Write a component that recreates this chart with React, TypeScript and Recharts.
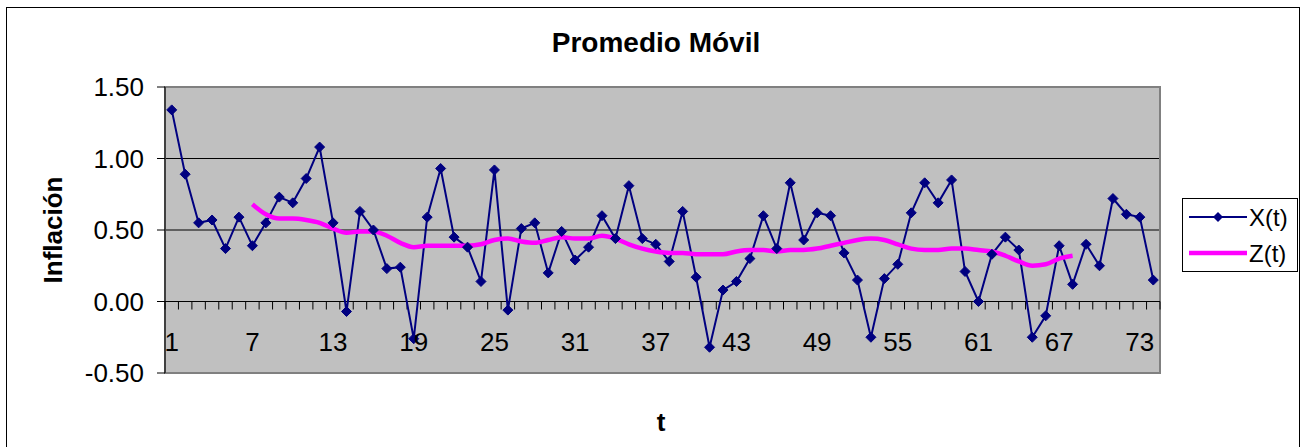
import React from 'react'
import {
  LineChart,
  Line,
  XAxis,
  YAxis,
  CartesianGrid,
  ReferenceLine,
  ReferenceArea,
  Legend,
} from 'recharts'

// X(t): inflación observada, t = 1..74
const xValues = [
  1.34, 0.89, 0.55, 0.57, 0.37, 0.59, 0.39, 0.55, 0.73, 0.69,
  0.86, 1.08, 0.55, -0.07, 0.63, 0.5, 0.23, 0.24, -0.26, 0.59,
  0.93, 0.45, 0.38, 0.14, 0.92, -0.06, 0.51, 0.55, 0.2, 0.49,
  0.29, 0.38, 0.6, 0.44, 0.81, 0.44, 0.4, 0.28, 0.63, 0.17,
  -0.32, 0.08, 0.14, 0.3, 0.6, 0.37, 0.83, 0.43, 0.62, 0.6,
  0.34, 0.15, -0.25, 0.16, 0.26, 0.62, 0.83, 0.69, 0.85, 0.21,
  0.0, 0.33, 0.45, 0.36, -0.25, -0.1, 0.39, 0.12, 0.4, 0.25,
  0.72, 0.61, 0.59, 0.15,
]

// Z(t): promedio móvil, t = 7..68
const zStart = 7
const zValues = [
  0.68, 0.61, 0.58, 0.58, 0.57, 0.55, 0.51, 0.48, 0.49, 0.49,
  0.46, 0.41, 0.38, 0.39, 0.39, 0.39, 0.39, 0.4, 0.43, 0.44,
  0.42, 0.41, 0.43, 0.45, 0.44, 0.44, 0.46, 0.44, 0.4, 0.37,
  0.35, 0.34, 0.34, 0.33, 0.33, 0.33, 0.35, 0.36, 0.36, 0.35,
  0.36, 0.36, 0.37, 0.39, 0.41, 0.43, 0.44, 0.43, 0.4, 0.37,
  0.36, 0.36, 0.37, 0.37, 0.36, 0.35, 0.32, 0.28, 0.25, 0.26,
  0.3, 0.32,
]

const xTicks = [1, 7, 13, 19, 25, 31, 37, 43, 49, 55, 61, 67, 73]
const yTicks = [-0.5, 0, 0.5, 1, 1.5]

const data = xValues.map((v, i) => {
  const t = i + 1
  const z = zValues[t - zStart]
  return { t, x: v, z: z === undefined ? null : z }
})

const FONT = 'Arial, "Liberation Sans", sans-serif'
const NAVY = '#000080'
const MAGENTA = '#FF00FF'

const Diamond = (props: any) => {
  const { cx, cy } = props
  if (cx == null || cy == null) return null
  const r = 5
  return (
    <path
      d={`M${cx},${cy - r}L${cx + r},${cy}L${cx},${cy + r}L${cx - r},${cy}Z`}
      fill={NAVY}
      stroke={NAVY}
    />
  )
}

// category axis drawn at y = 0, with tick marks between the categories
const ZeroAxis = (props: any) => {
  const { x1, y1, x2, y2 } = props
  const n = xValues.length
  const step = (x2 - x1) / n
  return (
    <g>
      <line x1={x1} y1={y1} x2={x2} y2={y2} stroke="#000" strokeWidth={1} />
      {Array.from({ length: n + 1 }, (_, i) => (
        <line
          key={i}
          x1={x1 + i * step}
          x2={x1 + i * step}
          y1={y1}
          y2={y1 + 8}
          stroke="#000"
          strokeWidth={1}
        />
      ))}
    </g>
  )
}

const renderXTick = (props: any) => {
  const { x, y, payload } = props
  return (
    <text
      key={`t-${payload.value}`}
      x={x}
      y={y - 22}
      textAnchor="middle"
      fontSize={26}
      fontFamily={FONT}
      fill="#000"
    >
      {payload.value}
    </text>
  )
}

const LegendBox = () => (
  <svg width={116} height={74} style={{ display: 'block' }}>
    <rect x={0.5} y={0.5} width={115} height={73} fill="#fff" stroke="#000" />
    <line x1={7} x2={65} y1={19} y2={19} stroke={NAVY} strokeWidth={2} />
    <path d="M36,14L41,19L36,24L31,19Z" fill={NAVY} />
    <text x={67} y={27.5} fontSize={24} fontFamily={FONT} fill="#000">X(t)</text>
    <line x1={7} x2={65} y1={55} y2={55} stroke={MAGENTA} strokeWidth={4.5} />
    <text x={67} y={63.5} fontSize={24} fontFamily={FONT} fill="#000">Z(t)</text>
  </svg>
)

export default function App() {
  return (
    <div
      style={{
        position: 'absolute',
        left: 0,
        top: 0,
        width: 1301,
        height: 447,
        overflow: 'hidden',
        background: '#fff',
      }}
    >
      <div
        style={{
          position: 'absolute',
          left: 6,
          top: 7,
          width: 1294,
          height: 470,
          border: '1px solid #000',
          boxSizing: 'border-box',
        }}
      />
      <div style={{ position: 'absolute', left: 0, top: 0 }}>
        <LineChart
          width={1301}
          height={447}
          data={data}
          margin={{ top: 87, right: 141, bottom: 73, left: 35 }}
        >
          <CartesianGrid vertical={false} stroke="#000" fill="#C0C0C0" fillOpacity={1} />
          <ReferenceArea y1={-0.5} y2={1.5} fill="none" stroke="#808080" strokeWidth={2} />
          <XAxis
            dataKey="t"
            type="number"
            domain={[0.5, 74.5]}
            ticks={xTicks}
            height={1}
            axisLine={false}
            tickLine={false}
            tickSize={0}
            tickMargin={0}
            tick={renderXTick}
            interval={0}
            allowDataOverflow
          />
          <YAxis
            type="number"
            domain={[-0.5, 1.5]}
            ticks={yTicks}
            width={130}
            axisLine={{ stroke: '#000' }}
            tickLine={{ stroke: '#000' }}
            tickSize={8}
            tickMargin={13}
            tickFormatter={(v: number) => v.toFixed(2)}
            tick={{ fontSize: 26, fontFamily: FONT, fill: '#000' }}
            interval={0}
          />
          <ReferenceLine y={0} shape={<ZeroAxis />} />
          <Line
            dataKey="x"
            name="X(t)"
            stroke={NAVY}
            strokeWidth={2}
            dot={<Diamond />}
            isAnimationActive={false}
          />
          <Line
            dataKey="z"
            name="Z(t)"
            type="monotone"
            stroke={MAGENTA}
            strokeWidth={4.5}
            dot={false}
            connectNulls={false}
            isAnimationActive={false}
          />
          <Legend
            layout="vertical"
            align="center"
            verticalAlign="middle"
            content={<LegendBox />}
            wrapperStyle={{ position: 'absolute', left: 1182, top: 198, width: 116, height: 74 }}
          />
        </LineChart>
      </div>
      <svg
        width={1301}
        height={447}
        style={{ position: 'absolute', left: 0, top: 0, pointerEvents: 'none' }}
      >
        <text x={656} y={51.5} textAnchor="middle" fontSize={28} fontWeight="bold" fontFamily={FONT}>
          Promedio Móvil
        </text>
        <text x={661} y={431} textAnchor="middle" fontSize={26} fontWeight="bold" fontFamily={FONT}>
          t
        </text>
        <text
          transform="translate(61.5,230) rotate(-90)"
          textAnchor="middle"
          fontSize={26}
          fontWeight="bold"
          fontFamily={FONT}
        >
          Inflación
        </text>
      </svg>
    </div>
  )
}
